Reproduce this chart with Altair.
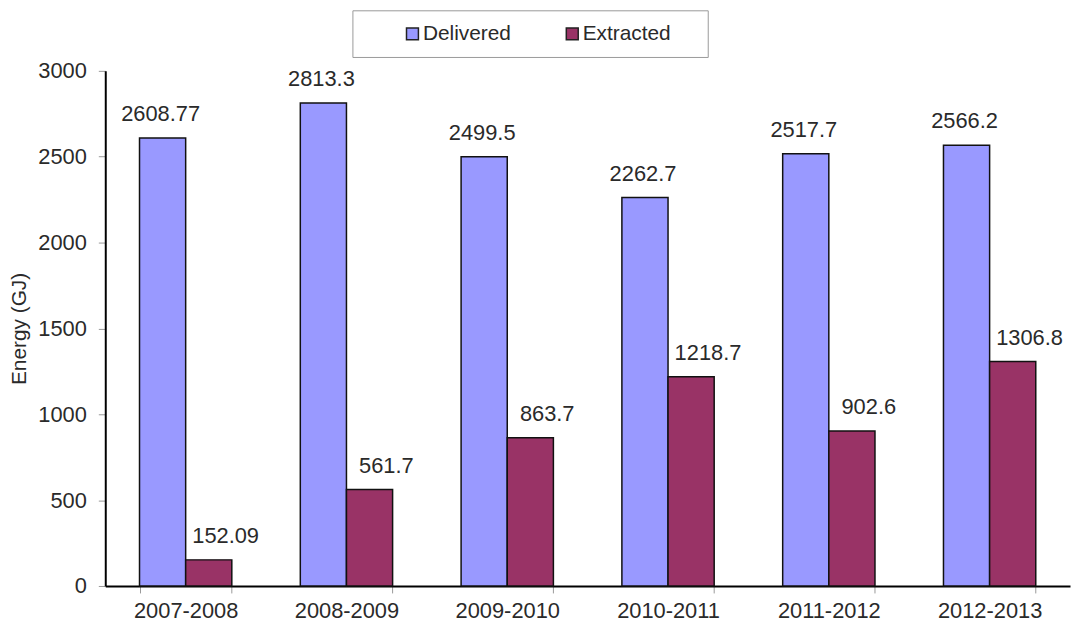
import altair as alt
import pandas as pd

years = ["2007-2008", "2008-2009", "2009-2010", "2010-2011", "2011-2012", "2012-2013"]
delivered = [2608.77, 2813.3, 2499.5, 2262.7, 2517.7, 2566.2]
extracted = [152.09, 561.7, 863.7, 1218.7, 902.6, 1306.8]
delivered_labels = ["2608.77", "2813.3", "2499.5", "2262.7", "2517.7", "2566.2"]
extracted_labels = ["152.09", "561.7", "863.7", "1218.7", "902.6", "1306.8"]
series = ["Delivered", "Extracted"]
colors = ["#9999FF", "#993366"]

rows = []
for i, y in enumerate(years):
    rows.append({"year": y, "series": "Delivered", "value": delivered[i], "label": delivered_labels[i]})
    rows.append({"year": y, "series": "Extracted", "value": extracted[i], "label": extracted_labels[i]})
df = pd.DataFrame(rows)

FONT = "Liberation Sans"
TXT = "#2a2a2a"

x = alt.X("year:N", sort=years, title=None,
          scale=alt.Scale(paddingInner=0.426, paddingOuter=0.213),
          axis=alt.Axis(labelAngle=0, labelFontSize=22, labelColor=TXT, labelFont=FONT,
                        domainColor="#000", domainWidth=2, tickColor="#999", tickSize=7,
                        tickBand="extent", labelPadding=8))
xo = alt.XOffset("series:N", sort=series, scale=alt.Scale(paddingInner=0, paddingOuter=0))
yenc = alt.Y("value:Q", title="Energy (GJ)",
             scale=alt.Scale(domain=[0, 3000], nice=False),
             axis=alt.Axis(values=[0, 500, 1000, 1500, 2000, 2500, 3000], grid=False, format="d",
                           labelFontSize=22, labelColor=TXT, labelFont=FONT,
                           domainColor="#000", domainWidth=2, tickColor="#999", tickSize=7,
                           labelPadding=12, titleFontSize=21, titleFont=FONT, titleFontWeight="normal",
                           titleColor=TXT, titlePadding=8))

bars = alt.Chart(df).mark_bar(stroke="#111", strokeWidth=1.5).encode(
    x=x, xOffset=xo, y=yenc,
    color=alt.Color("series:N", sort=series,
                    scale=alt.Scale(domain=series, range=colors),
                    legend=alt.Legend(title="x", titleOrient="right", titleOpacity=0,
                                      titleFontSize=10, titlePadding=18,
                                      orient="none", direction="horizontal",
                                      legendX=249, legendY=-61,
                                      symbolType="square", symbolSize=144,
                                      symbolStrokeColor="#222", symbolStrokeWidth=1.5,
                                      labelFontSize=21, labelFont=FONT, labelColor=TXT,
                                      labelOffset=0, columnPadding=14,
                                      padding=13, symbolOffset=37,
                                      strokeColor="#999", fillColor="#fff"))
)

text_del = alt.Chart(df).transform_filter(alt.datum.series == "Delivered").mark_text(
    baseline="middle", dy=-24, dx=-2, fontSize=22, font=FONT, color=TXT
).encode(x=x, xOffset=xo, y=alt.Y("value:Q"), text="label:N")

text_ext = alt.Chart(df).transform_filter(alt.datum.series == "Extracted").mark_text(
    baseline="middle", dy=-24, dx=17, fontSize=22, font=FONT, color=TXT
).encode(x=x, xOffset=xo, y=alt.Y("value:Q"), text="label:N")

chart = (bars + text_del + text_ext).properties(
    width=972, height=519,
    autosize=alt.AutoSizeParams(type="none"),
    padding={"left": 98, "top": 61, "right": 2, "bottom": 40},
).configure_view(stroke=None)

chart.save("out.html", embed_options={"renderer": "svg", "actions": False})
